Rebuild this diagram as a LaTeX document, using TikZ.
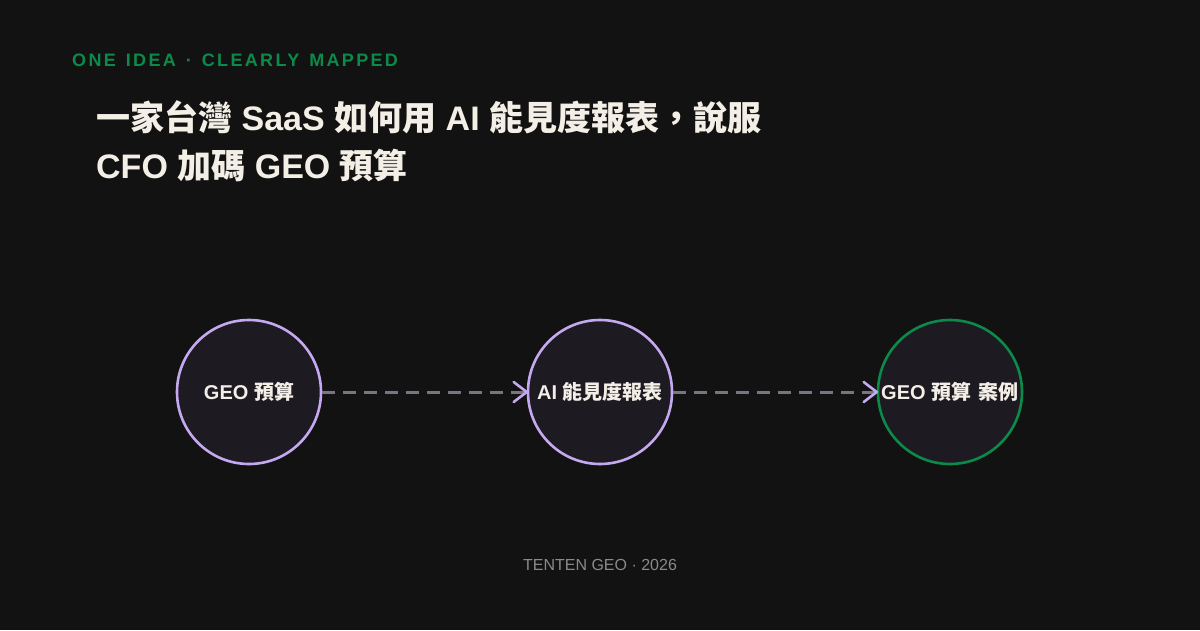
\documentclass[tikz,border=0pt]{standalone}
\usepackage{fontspec}
\setmainfont{Liberation Sans}
\newfontfamily\cjk{Noto Sans CJK TC}
\newfontfamily\spaced[LetterSpace=13]{Liberation Sans}
\newcommand\kickfont{\fontsize{18}{20}\selectfont\bfseries\spaced}
\newcommand\headfont{\fontsize{34}{40}\selectfont\bfseries}
\newcommand\ksp{\hspace{10pt}}
\definecolor{bg}{HTML}{121212}
\definecolor{nodefill}{HTML}{1D1A22}
\definecolor{lav}{HTML}{C4A8F0}
\definecolor{grn}{HTML}{0B8A4A}
\definecolor{ink}{HTML}{F3EFE6}
\definecolor{dashc}{HTML}{7A7382}
\definecolor{foot}{HTML}{8A8A8A}
\begin{document}
\begin{tikzpicture}[x=1pt,y=-1pt,
  circ/.style={circle, minimum size=144pt, inner sep=0pt, line width=2.6pt, fill=nodefill, text=ink, font=\fontsize{20}{22}\selectfont\bfseries},
  link/.style={draw=dashc, line width=3pt, dash pattern=on 13pt off 8pt},
  chev/.style={draw=lav, line width=2.6pt, line cap=round, line join=round}]
\fill[bg] (0,0) rectangle (1200,630);
\useasboundingbox (0,0) rectangle (1200,630);
\node[anchor=base west, text=grn, font=\kickfont, inner sep=0pt] (kicker) at (72,66) {ONE\ksp IDEA\ksp·\ksp CLEARLY\ksp MAPPED};
\node[anchor=base west, text=ink, font=\headfont, inner sep=0pt] (t1) at (96,130) {{\cjk 一家台灣} SaaS {\cjk 如何用} AI {\cjk 能見度報表，說服}};
\node[anchor=base west, text=ink, font=\headfont, inner sep=0pt] (t2) at (96,178) {CFO {\cjk 加碼} GEO {\cjk 預算}};
\node[circ, draw=lav] (a) at (249,392) {GEO {\cjk 預算}};
\node[circ, draw=lav] (b) at (600,392) {AI {\cjk 能見度報表}};
\node[circ, draw=grn] (c) at (950,392) {GEO {\cjk 預算}\hspace{2pt} {\cjk 案例}};
\draw[link] (a.east) -- (b.west);
\draw[link] (b.east) -- (c.west);
\draw[chev] ([shift={(-13,-10)}]b.west) -- (b.west) -- ([shift={(-13,10)}]b.west);
\draw[chev] ([shift={(-13,-10)}]c.west) -- (c.west) -- ([shift={(-13,10)}]c.west);
\node[text=foot, font=\fontsize{16}{18}\selectfont, inner sep=0pt] (footer) at (600,565) {TENTEN GEO · 2026};
\end{tikzpicture}
\end{document}
